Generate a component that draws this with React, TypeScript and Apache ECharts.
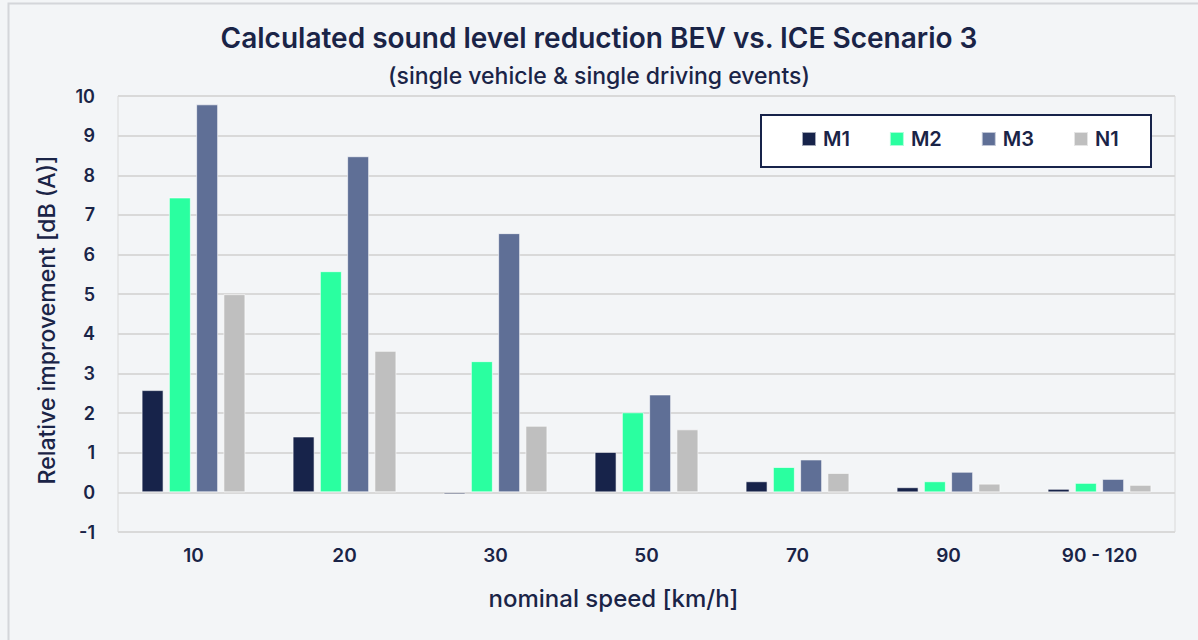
import React, { useEffect, useRef } from "react";
import * as echarts from "echarts";

const categories = ["10", "20", "30", "50", "70", "90", "90 - 120"];
const seriesNames = ["M1", "M2", "M3", "N1"];
const m1Values = [2.58, 1.41, -0.05, 1.02, 0.28, 0.13, 0.09];
const m2Values = [7.44, 5.58, 3.31, 2.02, 0.64, 0.28, 0.24];
const m3Values = [9.79, 8.48, 6.54, 2.47, 0.83, 0.52, 0.34];
const n1Values = [5.0, 3.57, 1.68, 1.59, 0.49, 0.22, 0.19];
const colors = ["#17234a", "#2affa0", "#5f6f96", "#bfbfbf"];
const yTicks = { min: -1, max: 10, interval: 1 };

const FONT = "Inter, 'Noto Sans', sans-serif";
const TEXT = "#1a2447";

export default function App() {
  const ref = useRef<HTMLDivElement>(null);
  useEffect(() => {
    if (!ref.current) return;
    const chart = echarts.init(ref.current, undefined, { renderer: "svg" });
    const data = [m1Values, m2Values, m3Values, n1Values];
    chart.setOption({
      animation: false,
      backgroundColor: "#f3f5f7",
      textStyle: { fontFamily: FONT, color: TEXT },
      title: [
        {
          text: "Calculated sound level reduction BEV vs. ICE Scenario 3",
          left: "center",
          top: 19,
          textStyle: { fontSize: 28, fontWeight: 600, color: TEXT, fontFamily: FONT },
        },
        {
          text: "(single vehicle & single driving events)",
          left: "center",
          top: 59,
          textStyle: { fontSize: 23, fontWeight: 500, color: TEXT, fontFamily: FONT },
        },
      ],
      graphic: [
        {
          type: "rect",
          shape: { x: 8.5, y: 3.5, width: 1300, height: 700 },
          style: { fill: "none", stroke: "#d4d6da", lineWidth: 2 },
          silent: true,
          z: -1,
        },
        {
          type: "rect",
          shape: { x: 761, y: 115, width: 390, height: 52 },
          style: { fill: "#ffffff", stroke: "#17234a", lineWidth: 2 },
          z: 5,
        },
      ],
      legend: {
        data: seriesNames,
        left: 801,
        top: 129,
        padding: 0,
        itemWidth: 14,
        itemHeight: 14,
        itemGap: 39,
        icon: "rect",
        z: 10,
        textStyle: { fontSize: 20, fontWeight: 600, color: TEXT, fontFamily: FONT, padding: [0, 0, 0, 2] },
      },
      grid: {
        left: 118,
        right: 23,
        top: 96,
        bottom: 108,
        show: true,
        borderColor: "#d9d9d9",
        borderWidth: 1,
        backgroundColor: "transparent",
      },
      xAxis: {
        type: "category",
        data: categories,
        axisLine: { show: false },
        axisTick: { show: false },
        axisLabel: { fontSize: 19, fontWeight: 600, color: TEXT, margin: 14 },
        name: "nominal speed [km/h]",
        nameLocation: "middle",
        nameGap: 54,
        nameTextStyle: { fontSize: 24, fontWeight: 500, color: TEXT, padding: [0, 66, 0, 0] },
      },
      yAxis: {
        type: "value",
        min: yTicks.min,
        max: yTicks.max,
        interval: yTicks.interval,
        axisLine: { show: false },
        axisTick: { show: false },
        splitLine: { lineStyle: { color: "#d9d9d9", width: 2 } },
        axisLabel: { fontSize: 18, fontWeight: 600, color: TEXT, margin: 23 },
        name: "Relative improvement [dB (A)]",
        nameLocation: "middle",
        nameGap: 60,
        nameRotate: 90,
        nameTextStyle: { fontSize: 23, fontWeight: 500, color: TEXT, padding: [0, 12, 0, 0] },
      },
      series: seriesNames.map((name, i) => ({
        name,
        type: "bar",
        data: data[i],
        barWidth: 22,
        barGap: "24%",
        itemStyle: {
          color: colors[i],
          borderColor: "rgba(255,255,255,0.6)",
          borderWidth: 1,
        },
      })),
    });
    return () => chart.dispose();
  }, []);
  return (
    <div
      ref={ref}
      style={{ position: "absolute", left: 0, top: 0, width: 1198, height: 640 }}
    />
  );
}
